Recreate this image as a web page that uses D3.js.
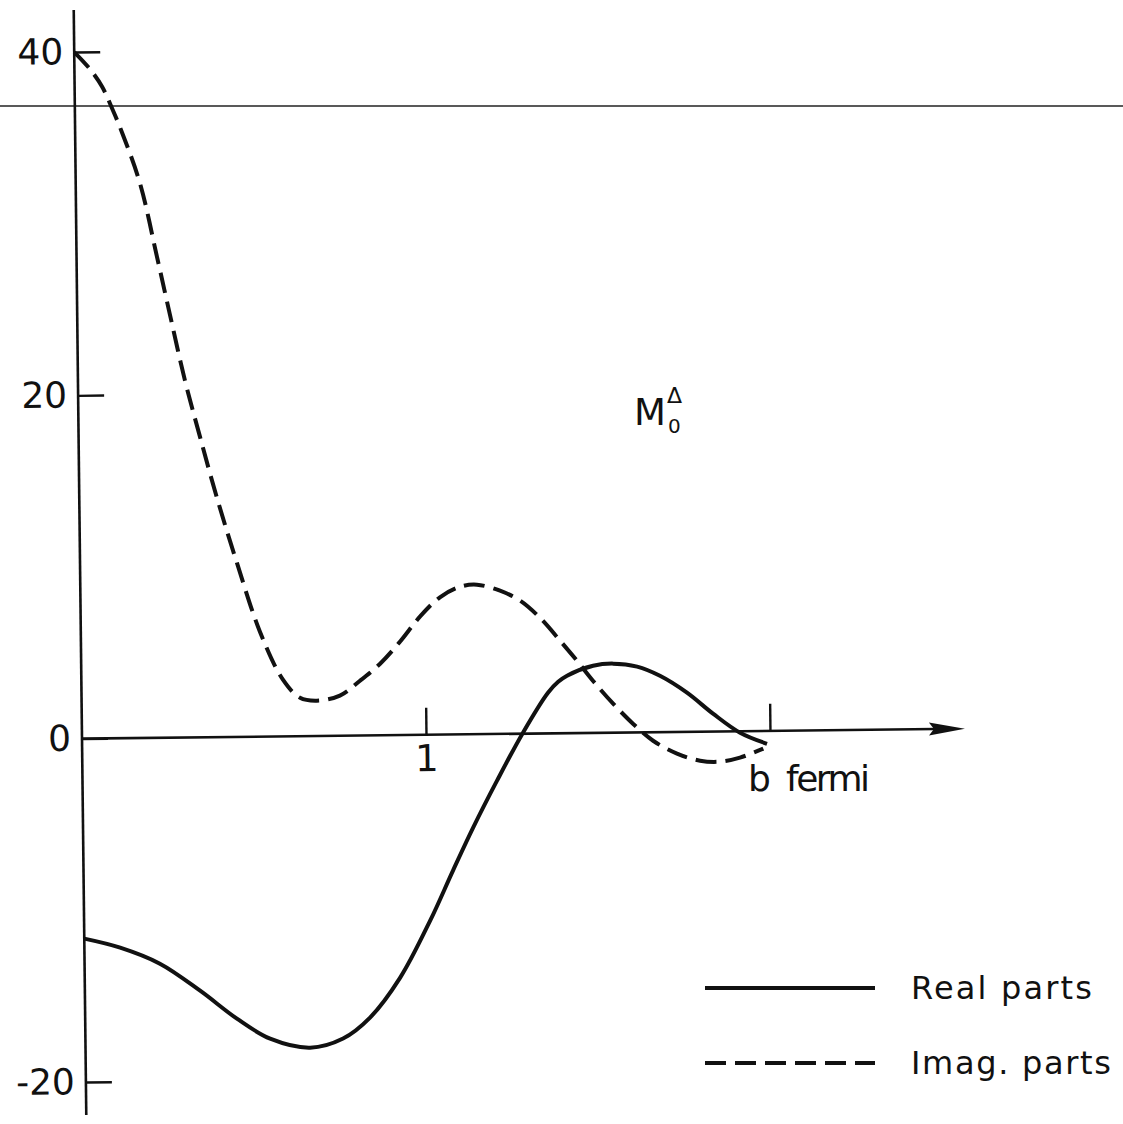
<!DOCTYPE html>
<html><head><meta charset="utf-8">
<script src="https://cdn.jsdelivr.net/npm/d3@7/dist/d3.min.js"></script>
<style>
body{margin:0;background:#fff}
text{font-family:"DejaVu Sans",sans-serif;fill:#111}
</style>
</head><body>
<svg id="chart" width="1123" height="1124"></svg>
<script>
// ---- data (b in fermi, amplitude) ----
const imagB = [0.0,0.045,0.080,0.108,0.136,0.187,0.234,0.270,0.311,0.353,0.400,0.456,0.521,0.586,0.635,0.684,0.751,0.810,0.869,0.928,0.987,1.045,1.104,1.153,1.220,1.278,1.335,1.393,1.441,1.487,1.545,1.602,1.660,1.729,1.796,1.854,1.912,1.980];
const imagV = [40.0,39.0,37.96,36.7,35.3,32.3,28.0,24.6,20.8,17.5,13.95,10.15,6.1,3.3,2.24,2.06,2.34,3.19,4.17,5.45,6.9,8.0,8.6,8.71,8.34,7.75,6.74,5.39,4.22,3.04,1.69,0.51,-0.5,-1.26,-1.69,-1.76,-1.54,-1.03];
const realB = [0.0,0.104,0.219,0.335,0.441,0.537,0.653,0.749,0.828,0.917,1.006,1.074,1.134,1.205,1.282,1.356,1.386,1.412,1.488,1.546,1.616,1.682,1.760,1.835,1.913,1.991];
const realV = [-11.65,-12.2,-13.16,-14.76,-16.41,-17.6,-18.15,-17.64,-16.44,-14.13,-10.83,-7.93,-5.44,-2.72,0.06,2.37,3.0,3.35,3.91,4.02,3.83,3.28,2.28,1.04,-0.09,-0.75];
const yTickValues = [-20,0,20,40];
const xTickValues = [1,2];
const xTickLabels = ["1",""];
const xAxisLabel = "b  fermi";
const legendLabels = ["Real parts","Imag. parts"];

const svg = d3.select("#chart");
const x = d3.scaleLinear().domain([0,2]).range([82,770]);
const y = d3.scaleLinear().domain([-20,40]).range([1082,52]);

// faint scan line across page
svg.append("line").attr("x1",0).attr("x2",1123).attr("y1",106).attr("y2",106)
  .attr("stroke","#222").attr("stroke-width",1.3);

const g = svg.append("g").attr("transform","rotate(-0.65,82,738)");

// y axis
g.append("line").attr("x1",x(0)).attr("x2",x(0)).attr("y1",10).attr("y2",1115)
  .attr("stroke","#111").attr("stroke-width",2.6);
const ya = g.append("g").attr("transform",`translate(${x(0)},0)`)
  .call(d3.axisLeft(y).tickValues(yTickValues).tickSize(-26).tickSizeOuter(0).tickPadding(11)
    .tickFormat(d=>d<0?"-"+Math.abs(d):String(d)));
ya.select(".domain").remove();
ya.selectAll(".tick line").attr("stroke","#111").attr("stroke-width",2.4);
ya.selectAll(".tick text").attr("font-size",36).attr("fill","#111")
  .style("font-family","'DejaVu Sans',sans-serif");

// x axis
g.append("line").attr("x1",x(0)).attr("x2",935).attr("y1",y(0)).attr("y2",y(0))
  .attr("stroke","#111").attr("stroke-width",2.6);
g.append("path").attr("d",`M965,${y(0)} L929,${y(0)-6.5} L934,${y(0)} L929,${y(0)+6.5} Z`)
  .attr("fill","#111");
const xa = g.append("g").attr("transform",`translate(0,${y(0)})`)
  .call(d3.axisBottom(x).tickValues(xTickValues).tickSize(-27).tickSizeOuter(0).tickPadding(10)
    .tickFormat((d,i)=>xTickLabels[i]));
xa.select(".domain").remove();
xa.selectAll(".tick line").attr("stroke","#111").attr("stroke-width",2.4);
xa.selectAll(".tick text").attr("font-size",37).attr("fill","#111")
  .style("font-family","'DejaVu Sans',sans-serif");

// curves
const line = d3.line().x(d=>x(d[0])).y(d=>y(d[1])).curve(d3.curveCatmullRom.alpha(0.5));
g.append("path").datum(imagB.map((b,i)=>[b,imagV[i]]))
  .attr("d",line).attr("fill","none").attr("stroke","#111").attr("stroke-width",4)
  .attr("stroke-dasharray","21,9");
g.append("path").datum(realB.map((b,i)=>[b,realV[i]]))
  .attr("d",line).attr("fill","none").attr("stroke","#111").attr("stroke-width",4);

// labels
svg.append("text").attr("x",748).attr("y",791).attr("font-size",36)
  .attr("textLength",122).attr("lengthAdjust","spacing").style("white-space","pre").text(xAxisLabel);
svg.append("text").attr("x",634).attr("y",425).attr("font-size",37).text("M");
svg.append("text").attr("x",668).attr("y",433).attr("font-size",20).text("0");
svg.append("text").attr("x",667).attr("y",403).attr("font-size",22).text("Δ");

// legend
const legY = [988,1063];
const legDash = [null,"21,9"];
legendLabels.forEach((lab,i)=>{
  const l = svg.append("line").attr("x1",705).attr("x2",875).attr("y1",legY[i]).attr("y2",legY[i])
    .attr("stroke","#111").attr("stroke-width",4);
  if(legDash[i]) l.attr("stroke-dasharray",legDash[i]);
  svg.append("text").attr("x",911).attr("y",legY[i]+11).attr("font-size",32)
    .attr("textLength",i===0?181:200).attr("lengthAdjust","spacing").text(lab);
});
</script>
</body></html>
